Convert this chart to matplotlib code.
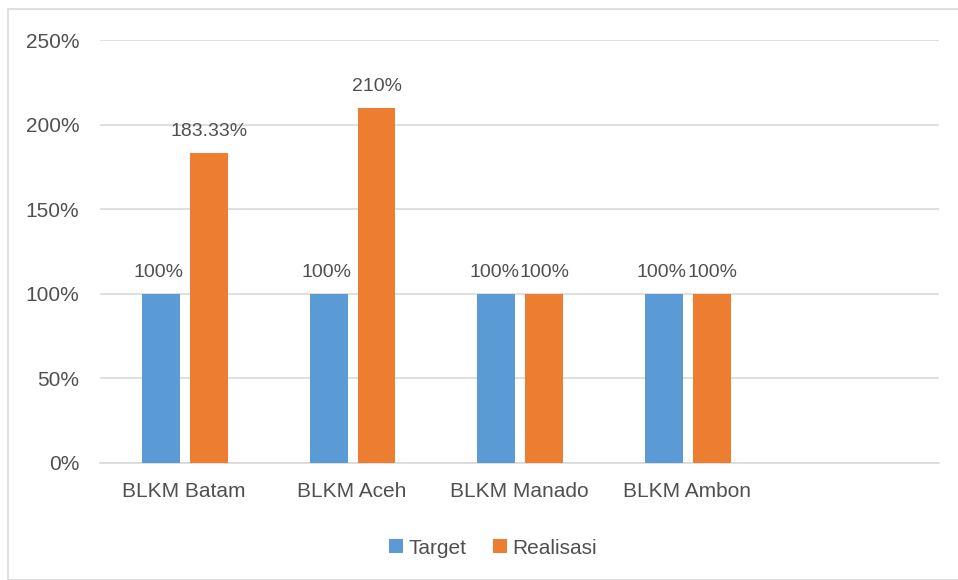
import matplotlib
matplotlib.use("Agg")
import matplotlib.pyplot as plt
import numpy as np
from matplotlib.patches import Rectangle

categories = ["BLKM Batam", "BLKM Aceh", "BLKM Manado", "BLKM Ambon", ""]
target = [100, 100, 100, 100, None]
realisasi = [183.33, 210, 100, 100, None]
target_labels = ["100%", "100%", "100%", "100%", ""]
realisasi_labels = ["183.33%", "210%", "100%", "100%", ""]
yticks = [0, 50, 100, 150, 200, 250]

plt.rcParams['font.family'] = ['Liberation Sans', 'DejaVu Sans']
TXT = "#505050"
BLUE = "#5b9bd5"
ORANGE = "#ed7d31"
FS = 15
FSL = 14

fig = plt.figure(figsize=(9.58, 5.8), dpi=100)
fig.patches.append(Rectangle((8/958, 0), 1, 1 - 9/580, transform=fig.transFigure,
                             fill=False, edgecolor="#d9d9d9", linewidth=1.2))
ax = fig.add_axes([100/958, 1 - 463/580, 839/958, 423/580])

x = np.arange(len(categories))
w = 0.226
off = 0.143
tv = [v if v is not None else 0 for v in target]
rv = [v if v is not None else 0 for v in realisasi]
b1 = ax.bar(x - off + 0.005, tv, w, color=BLUE, label="Target", zorder=3)
b2 = ax.bar(x + off + 0.005, rv, w, color=ORANGE, label="Realisasi", zorder=3)

for xi, v, lab in zip(x, tv, target_labels):
    if lab:
        ax.annotate(lab, (xi - off, v), xytext=(-1, 9), textcoords="offset points",
                    ha="center", va="bottom", fontsize=FSL, color=TXT)
for xi, v, lab in zip(x, rv, realisasi_labels):
    if lab:
        ax.annotate(lab, (xi + off, v), xytext=(1, 9), textcoords="offset points",
                    ha="center", va="bottom", fontsize=FSL, color=TXT)

ax.set_xlim(-0.5, len(categories) - 0.5)
ax.set_ylim(0, 250)
ax.set_yticks(yticks)
ax.set_yticklabels([f"{t}%" for t in yticks])
ax.set_xticks(x)
ax.set_xticklabels(categories)
ax.tick_params(axis="both", length=0, labelsize=FS, colors=TXT)
ax.tick_params(axis="y", pad=15)
ax.tick_params(axis="x", pad=14)
ax.grid(axis="y", color="#d9d9d9", linewidth=1.2, zorder=0)
for s in ["top", "right", "left"]:
    ax.spines[s].set_visible(False)
ax.spines["bottom"].set_color("#d9d9d9")
ax.spines["bottom"].set_linewidth(1.2)

leg = fig.legend(handles=[b1, b2], loc="center", bbox_to_anchor=(493/958, 1 - 548/580),
                 ncol=2, frameon=False, fontsize=FS, handlelength=0.65, handleheight=0.65,
                 handletextpad=0.25, columnspacing=1.3)
for t in leg.get_texts():
    t.set_color(TXT)

fig.savefig("out.png", dpi=100)
